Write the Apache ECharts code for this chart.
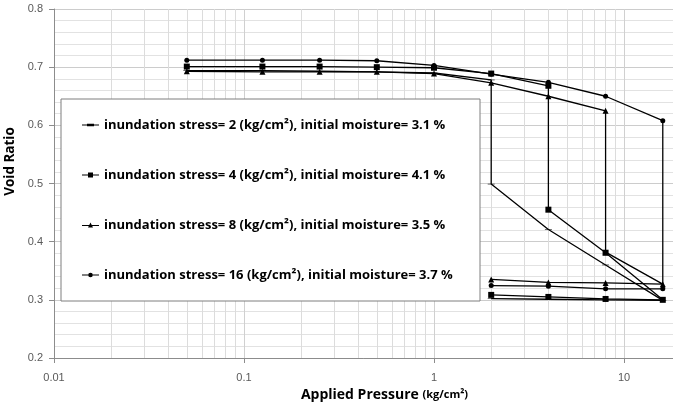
<!DOCTYPE html>
<html lang="en">
<head>
    <meta charset="UTF-8">
    <title>Void ratio vs applied pressure</title>
    <script src="https://cdn.jsdelivr.net/npm/echarts@6/dist/echarts.min.js"></script>
    <style>
        html, body { margin: 0; padding: 0; background: #fff; }
    </style>
</head>
<body>
    <div id="main" style="width: 673px;height: 402px;"></div>
<script>
// series names (legend)
var names = [
    'inundation stress= 2 (kg/cm²), initial moisture= 3.1 %',
    'inundation stress= 4 (kg/cm²), initial moisture= 4.1 %',
    'inundation stress= 8 (kg/cm²), initial moisture= 3.5 %',
    'inundation stress= 16 (kg/cm²), initial moisture= 3.7 %'
];

// applied pressure (kg/cm2), loading -> inundation -> loading -> unloading
var p2  = [0.05, 0.125, 0.25, 0.5, 1, 2, 2, 4, 8, 16, 8, 4, 2];
var p4  = [0.05, 0.125, 0.25, 0.5, 1, 2, 4, 4, 8, 16, 8, 4, 2];
var p8  = [0.05, 0.125, 0.25, 0.5, 1, 2, 4, 8, 8, 16, 8, 4, 2];
var p16 = [0.05, 0.125, 0.25, 0.5, 1, 2, 4, 8, 16, 16, 8, 4, 2];

// void ratio
var e2  = [0.694, 0.694, 0.693, 0.692, 0.690, 0.678, 0.499, 0.421, 0.360, 0.299, 0.300, 0.301, 0.302];
var e4  = [0.701, 0.701, 0.701, 0.700, 0.699, 0.689, 0.668, 0.455, 0.381, 0.300, 0.3015, 0.305, 0.3085];
var e8  = [0.693, 0.692, 0.692, 0.692, 0.689, 0.673, 0.650, 0.625, 0.382, 0.327, 0.329, 0.330, 0.335];
var e16 = [0.712, 0.712, 0.712, 0.711, 0.703, 0.688, 0.674, 0.650, 0.608, 0.319, 0.319, 0.3235, 0.3245];

// minor grid lines of the log axis
var minorX = [0.02, 0.03, 0.04, 0.05, 0.06, 0.07, 0.08, 0.09,
              0.2, 0.3, 0.4, 0.5, 0.6, 0.7, 0.8, 0.9,
              2, 3, 4, 5, 6, 7, 8, 9,
              20, 30, 40, 50, 60, 70, 80, 90];

function zip(xs, ys) {
    return xs.map(function (x, i) { return [x, ys[i]]; });
}

var font = '"Liberation Sans", Arial, sans-serif';
var boldFont = '"Open Sans", "Liberation Sans", sans-serif';
var dashSymbol = 'path://M0,0L7,0L7,2L0,2Z';

function makeSeries(name, xs, ys, symbol, size) {
    return {
        name: name,
        type: 'line',
        data: zip(xs, ys),
        symbol: symbol,
        symbolSize: size,
        symbolKeepAspect: true,
        showSymbol: true,
        lineStyle: { color: '#000', width: 1.3 },
        itemStyle: { color: '#000', borderWidth: 0 },
        emphasis: { disabled: true },
        z: 3
    };
}

// legend icons: short line with the marker in the middle
var legendIcons = [
    'path://M0,4.5L17,4.5L17,5.5L0,5.5Z M5,3.8L12,3.8L12,6.2L5,6.2Z',
    'path://M0,4.5L17,4.5L17,5.5L0,5.5Z M6,2.5L11,2.5L11,7.5L6,7.5Z',
    'path://M0,4.5L17,4.5L17,5.5L0,5.5Z M8.5,2.2L11,7L6,7Z',
    'path://M0,4.5L17,4.5L17,5.5L0,5.5Z M8.5,2.7A2.3,2.3 0 1 1 8.49,2.7Z'
];

var myChart = echarts.init(document.getElementById('main'));

myChart.setOption({
    animation: false,
    grid: { left: 54, top: 9, width: 760, height: 349, containLabel: false, outerBoundsMode: 'none' },
    xAxis: {
        type: 'log',
        logBase: 10,
        min: 0.01,
        max: 100,
        name: '{a|Applied Pressure }{b|(kg/cm²)}',
        nameLocation: 'middle',
        nameGap: 14,
        nameTextStyle: {
            padding: [0, 99, 0, 0],
            rich: {
                a: { fontFamily: boldFont, fontSize: 14, fontWeight: 'bold', color: '#000' },
                b: { fontFamily: boldFont, fontSize: 11, fontWeight: 'bold', color: '#000' }
            }
        },
        axisLine: { show: true, onZero: false, lineStyle: { color: '#8c8c8c' } },
        axisTick: { show: true, length: 5, inside: false, lineStyle: { color: '#8c8c8c' } },
        axisLabel: {
            margin: 14, fontFamily: font, fontSize: 11, color: '#595959',
            formatter: function (v) { return String(+v.toPrecision(3)); }
        },
        splitLine: { show: true, lineStyle: { color: '#d0d0d0', width: 1 } }
    },
    yAxis: {
        type: 'value',
        min: 0.2,
        max: 0.8,
        interval: 0.1,
        name: 'Void Ratio',
        nameLocation: 'middle',
        nameGap: 35,
        nameTextStyle: {
            fontFamily: boldFont, fontSize: 13.5, fontWeight: 'bold', color: '#000',
            padding: [0, 0, 0, 44]
        },
        axisLine: { show: true, lineStyle: { color: '#8c8c8c' } },
        axisTick: { show: true, length: 5, lineStyle: { color: '#8c8c8c' } },
        axisLabel: {
            margin: 11, fontFamily: font, fontSize: 11, color: '#595959',
            formatter: function (v) { return v.toFixed(1); }
        },
        splitLine: { show: true, lineStyle: { color: '#cccccc' } },
        minorTick: { show: false, splitNumber: 5 },
        minorSplitLine: { show: true, lineStyle: { color: '#e2e2e2' } }
    },
    legend: {
        data: names.map(function (n, i) { return { name: n, icon: legendIcons[i] }; }),
        orient: 'vertical',
        left: 82,
        top: 118,
        padding: 0,
        itemGap: 36,
        itemWidth: 17,
        itemHeight: 10,
        z: 12,
        textStyle: { fontFamily: boldFont, fontSize: 13, fontWeight: 'bold', color: '#000', lineHeight: 14 },
        selectedMode: false
    },
    graphic: [{
        type: 'rect',
        z: 10,
        shape: { x: 61, y: 99, width: 419, height: 202 },
        style: { fill: '#fff', stroke: '#7f7f7f', lineWidth: 1 },
        silent: true
    }],
    series: [
        {
            name: 'minor',
            type: 'line',
            data: [],
            silent: true,
            z: 1,
            markLine: {
                silent: true,
                z: 1,
                symbol: ['none', 'none'],
                label: { show: false },
                animation: false,
                lineStyle: { color: '#dcdcdc', width: 1, type: 'solid' },
                emphasis: { disabled: true },
                data: minorX.map(function (v) { return { xAxis: v }; })
            }
        },
        makeSeries(names[0], p2, e2, dashSymbol, [7, 2]),
        makeSeries(names[1], p4, e4, 'rect', 6),
        makeSeries(names[2], p8, e8, 'triangle', 6),
        makeSeries(names[3], p16, e16, 'circle', 5)
    ]
});
</script>
</body>
</html>
